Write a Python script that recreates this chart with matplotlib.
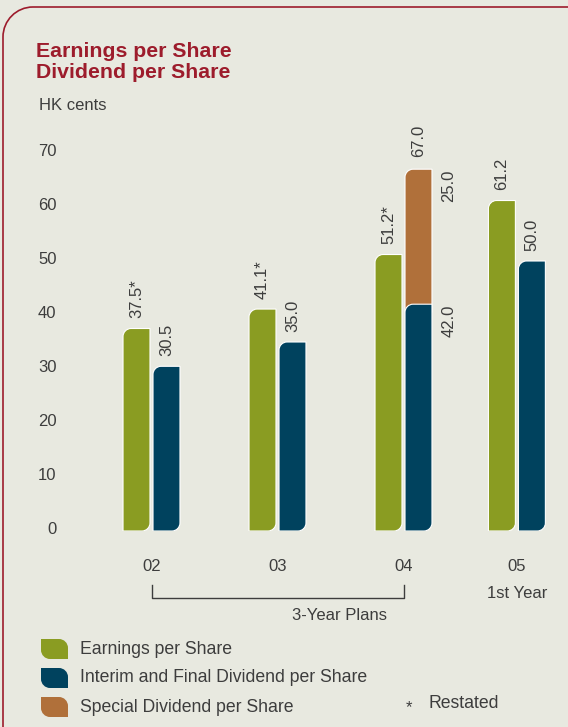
import matplotlib
matplotlib.use('Agg')
import matplotlib.pyplot as plt
import matplotlib.transforms as mtransforms
from matplotlib.path import Path
from matplotlib.patches import PathPatch

plt.rcParams['font.family'] = ['Liberation Sans', 'DejaVu Sans']

# 数据
years = ['02', '03', '04', '05']
eps = [37.5, 41.1, 51.2, 61.2]
eps_labels = ['37.5*', '41.1*', '51.2*', '61.2']
dividend = [30.5, 35.0, 42.0, 50.0]
dividend_labels = ['30.5', '35.0', '42.0', '50.0']
special = [0, 0, 25.0, 0]
special_labels = ['', '', '25.0', '']
total_labels = ['', '', '67.0', '']
y_ticks = [0, 10, 20, 30, 40, 50, 60, 70]
legend_names = ['Earnings per Share', 'Interim and Final Dividend per Share',
                'Special Dividend per Share']

# 颜色
bg = '#e8e9e0'
c_green = '#8a9c22'
c_blue = '#00425e'
c_orange = '#b0703a'
c_red = '#9d1c2c'
c_text = '#3d3d3d'

# 布局 (像素)
W, H = 568, 727
px_x = 126.0    # 每组间距像素
px_y = 5.4      # 每单位像素
x_pos = [0, 1, 2, 2.9]
bar_w = 0.214
off = 0.119


def rounded(x0, y0, x1, y1, rx, ry, corners):
    k = 0.5523
    v, c = [], []
    v.append((x0 + rx, y0) if 'bl' in corners else (x0, y0)); c.append(Path.MOVETO)
    if 'br' in corners:
        v += [(x1 - rx, y0), (x1 - rx + k * rx, y0), (x1, y0 + ry - k * ry), (x1, y0 + ry)]
        c += [Path.LINETO] + [Path.CURVE4] * 3
    else:
        v.append((x1, y0)); c.append(Path.LINETO)
    if 'tr' in corners:
        v += [(x1, y1 - ry), (x1, y1 - ry + k * ry), (x1 - rx + k * rx, y1), (x1 - rx, y1)]
        c += [Path.LINETO] + [Path.CURVE4] * 3
    else:
        v.append((x1, y1)); c.append(Path.LINETO)
    if 'tl' in corners:
        v += [(x0 + rx, y1), (x0 + rx - k * rx, y1), (x0, y1 - ry + k * ry), (x0, y1 - ry)]
        c += [Path.LINETO] + [Path.CURVE4] * 3
    else:
        v.append((x0, y1)); c.append(Path.LINETO)
    if 'bl' in corners:
        v += [(x0, y0 + ry), (x0, y0 + ry - k * ry), (x0 + rx - k * rx, y0), (x0 + rx, y0)]
        c += [Path.LINETO] + [Path.CURVE4] * 3
    v.append((0, 0)); c.append(Path.CLOSEPOLY)
    return Path(v, c)


fig = plt.figure(figsize=(W / 100, H / 100), dpi=100)
fig.set_facecolor(bg)

# 主坐标轴
left_px, zero_px, top_px = 62, 531, 100
ax = fig.add_axes([left_px / W, (H - zero_px) / H, (W - left_px) / W, (zero_px - top_px) / H])
ax.set_facecolor('none')
ax.set_xlim((left_px - 151.5) / px_x, (W - 151.5) / px_x)
ax.set_ylim(0, (zero_px - top_px) / px_y)
for s in ax.spines.values():
    s.set_visible(False)

rx, ry = 8 / px_x, 8 / px_y

xs_g = [x - off for x in x_pos]
xs_b = [x + off for x in x_pos]
bars_g = ax.bar(xs_g, eps, width=bar_w, color=c_green)
bars_b = ax.bar(xs_b, dividend, width=bar_w, color=c_blue)
bars_o = ax.bar(xs_b, special, width=bar_w, bottom=dividend, color=c_orange)

for i, r in enumerate(bars_o):
    r.set_visible(False)
    if special[i] <= 0:
        continue
    x0, y0, w, h = r.get_x(), r.get_y(), r.get_width(), r.get_height()
    ax.add_patch(PathPatch(rounded(x0, y0 - ry, x0 + w, y0 + h, rx, ry, {'tl'}),
                           facecolor=c_orange, edgecolor='white', lw=0.8, zorder=2))
for bars, col in ((bars_g, c_green), (bars_b, c_blue)):
    for r in bars:
        r.set_visible(False)
        x0, y0, w, h = r.get_x(), r.get_y(), r.get_width(), r.get_height()
        ax.add_patch(PathPatch(rounded(x0, y0, x0 + w, y0 + h, rx, ry, {'tl', 'br'}),
                               facecolor=col, edgecolor='white', lw=0.8, zorder=3))

# 数值标签
lab_kw = dict(textcoords='offset points', rotation=90, fontsize=12, color=c_text)
for i in range(len(years)):
    ax.annotate(eps_labels[i], (xs_g[i], eps[i]), xytext=(0, 7.5), ha='center', va='bottom', **lab_kw)
    if special[i] > 0:
        right = xs_b[i] + bar_w / 2
        ax.annotate(dividend_labels[i], (right, dividend[i]), xytext=(12, 0), ha='center', va='top', **lab_kw)
        ax.annotate(special_labels[i], (right, dividend[i] + special[i]), xytext=(12, 0),
                    ha='center', va='top', **lab_kw)
        ax.annotate(total_labels[i], (xs_b[i], dividend[i] + special[i]), xytext=(0, 9),
                    ha='center', va='bottom', **lab_kw)
    else:
        ax.annotate(dividend_labels[i], (xs_b[i], dividend[i]), xytext=(0, 7.5),
                    ha='center', va='bottom', **lab_kw)

ax.set_xticks(x_pos, years)
ax.set_yticks(y_ticks)
ax.tick_params(axis='x', length=0, pad=20, labelsize=12, labelcolor=c_text)
ax.tick_params(axis='y', length=0, pad=4, labelsize=12, labelcolor=c_text)
shift = mtransforms.ScaledTranslation(0, 3 / 100, fig.dpi_scale_trans)
for lab in ax.get_yticklabels():
    lab.set_transform(lab.get_transform() + shift)

# 覆盖层 (像素坐标)
ov = fig.add_axes([0, 0, 1, 1], zorder=-1)
ov.set_xlim(0, W)
ov.set_ylim(H, 0)
ov.axis('off')

# 边框
R = 30
k = 0.5523
border = Path([(3, H + 5), (3, 7 + R), (3, 7 + R - k * R), (3 + R - k * R, 7), (3 + R, 7), (W + 5, 7)],
              [Path.MOVETO, Path.LINETO, Path.CURVE4, Path.CURVE4, Path.CURVE4, Path.LINETO])
ov.add_patch(PathPatch(border, fill=False, edgecolor=c_red, lw=1.2))

# 标题
ov.text(36, 57, 'Earnings per Share', fontsize=15.3, fontweight='bold', color=c_red, va='baseline')
ov.text(36, 78, 'Dividend per Share', fontsize=15.3, fontweight='bold', color=c_red, va='baseline')
ov.text(39, 110, 'HK cents', fontsize=12, color=c_text, va='baseline')

# 三年计划括号
bt = mtransforms.blended_transform_factory(ax.transData, ov.transData)
ax.plot([x_pos[0], x_pos[0], x_pos[2], x_pos[2]], [585, 598, 598, 585], color=c_text, lw=1,
        transform=bt, clip_on=False)
ax.text(1.49, 616, '3-Year Plans', transform=bt, ha='center', va='center', fontsize=12, color=c_text)
ax.text(x_pos[3], 593, '1st Year', transform=bt, ha='center', va='center', fontsize=12, color=c_text)

# 图例
for j, (name, col) in enumerate(zip(legend_names, [c_green, c_blue, c_orange])):
    yb = 659 + j * 29
    ov.add_patch(PathPatch(rounded(41, yb, 68, yb - 20, 9, -9, {'tr', 'bl'}), facecolor=col, edgecolor='none'))
    ov.text(80, yb - 10, name, fontsize=12.7, color=c_text, va='center')
ov.text(409, 708, '*', fontsize=12, color=c_text, ha='center', va='center')
ov.text(429, 704, 'Restated', fontsize=12.7, color=c_text, va='center')

plt.savefig('out.png', dpi=100, facecolor=bg)
